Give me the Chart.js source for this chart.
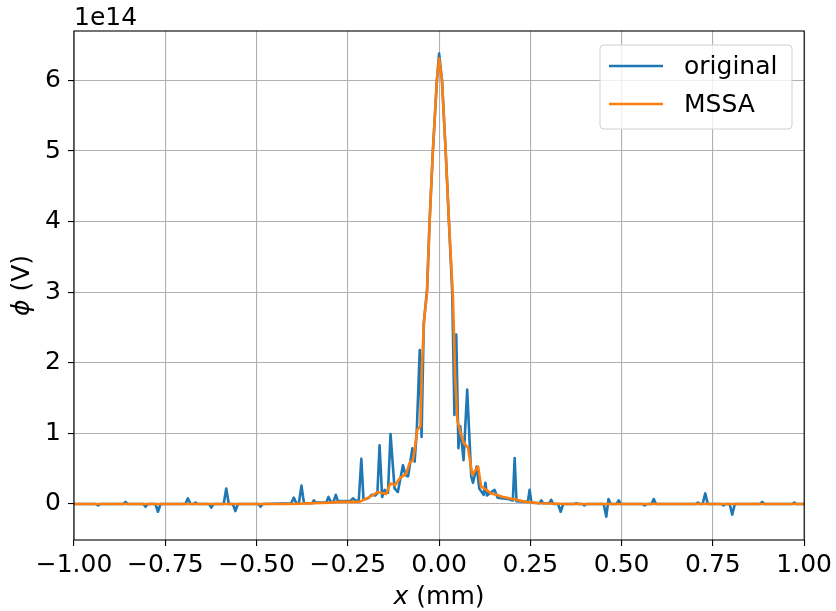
<!DOCTYPE html>
<html>
<head>
<meta charset="utf-8">
<script src="https://cdn.jsdelivr.net/npm/chart.js@4/dist/chart.umd.min.js"></script>
<style>
  html, body { margin: 0; padding: 0; background: #fff; }
  canvas { display: block; }
</style>
</head>
<body>
<canvas id="chart" width="836" height="611"></canvas>
<script>
// values, y in units of 1e14 V
var originalX = [-1.0, -0.94, -0.934, -0.928, -0.865, -0.859, -0.853, -0.81, -0.804, -0.798,
    -0.777, -0.770, -0.763, -0.695, -0.688, -0.681, -0.672, -0.667, -0.662, -0.630,
    -0.624, -0.618, -0.590, -0.583, -0.576, -0.565, -0.558, -0.551, -0.495, -0.489,
    -0.483, -0.405, -0.398, -0.391, -0.384, -0.377, -0.370, -0.348, -0.343, -0.338,
    -0.309, -0.303, -0.297, -0.289, -0.283, -0.277, -0.260, -0.243, -0.236, -0.229,
    -0.220, -0.213, -0.207, -0.195, -0.185, -0.175, -0.169, -0.163, -0.156, -0.149,
    -0.140, -0.133, -0.122, -0.113, -0.099, -0.092, -0.085, -0.073, -0.067, -0.061,
    -0.053, -0.048, -0.042, -0.033, -0.026, -0.017, -0.006, 0.0, 0.008, 0.018,
    0.027, 0.036, 0.042, 0.047, 0.053, 0.058, 0.067, 0.077, 0.088, 0.093,
    0.103, 0.110, 0.122, 0.127, 0.131, 0.138, 0.152, 0.160, 0.175, 0.190,
    0.202, 0.207, 0.212, 0.243, 0.248, 0.253, 0.275, 0.280, 0.285, 0.302,
    0.307, 0.313, 0.326, 0.333, 0.340, 0.370, 0.376, 0.382, 0.392, 0.398,
    0.404, 0.451, 0.458, 0.464, 0.470, 0.486, 0.492, 0.498, 0.557, 0.563,
    0.569, 0.582, 0.588, 0.594, 0.703, 0.709, 0.715, 0.722, 0.729, 0.736,
    0.773, 0.779, 0.785, 0.796, 0.803, 0.810, 0.879, 0.885, 0.891, 0.967,
    0.973, 0.979, 1.0];
var originalY = [0, 0, -0.02, 0, 0, 0.03, 0, 0, -0.04, 0,
    0, -0.11, 0, 0, 0.08, 0, 0, 0.02, 0, 0,
    -0.05, 0, 0, 0.22, 0, 0, -0.10, 0, 0, -0.04,
    0, 0.01, 0.09, 0.01, 0.01, 0.26, 0.01, 0.01, 0.05, 0.02,
    0.02, 0.10, 0.03, 0.03, 0.13, 0.04, 0.04, 0.04, 0.08, 0.05,
    0.05, 0.64, 0.06, 0.08, 0.13, 0.12, 0.15, 0.83, 0.10, 0.20,
    0.16, 0.99, 0.22, 0.17, 0.55, 0.41, 0.39, 0.79, 0.60, 1.05,
    2.18, 0.95, 2.56, 3.03, 4.0, 5.0, 6.0, 6.38, 6.0, 5.0,
    4.0, 3.0, 1.26, 2.40, 0.79, 1.10, 0.62, 1.62, 0.39, 0.30,
    0.53, 0.22, 0.13, 0.30, 0.12, 0.15, 0.20, 0.09, 0.08, 0.07,
    0.05, 0.65, 0.04, 0.03, 0.20, 0.02, 0.01, 0.05, 0.01, 0.01,
    0.06, 0, 0, -0.11, 0, 0, 0.01, 0, 0, -0.02,
    0, 0, -0.18, 0.07, 0, 0, 0.05, 0, 0, -0.02,
    0, 0, 0.07, 0, 0, 0.02, 0, 0, 0.15, 0,
    0, -0.02, 0, 0, -0.15, 0, 0, 0.03, 0, 0,
    0.02, 0, 0];

var mssaX = [-1.0, -0.40, -0.30, -0.272, -0.218, -0.190, -0.168, -0.145, -0.134, -0.120,
    -0.108, -0.090, -0.081, -0.072, -0.066, -0.060, -0.051, -0.047, -0.041, -0.033,
    -0.026, -0.017, -0.006, 0.0, 0.008, 0.018, 0.027, 0.038, 0.044, 0.050,
    0.059, 0.068, 0.079, 0.091, 0.100, 0.107, 0.115, 0.129, 0.143, 0.157,
    0.175, 0.202, 0.239, 0.275, 0.35, 1.0];
var mssaY = [0, 0, 0.02, 0.03, 0.03, 0.10, 0.17, 0.14, 0.29, 0.27,
    0.36, 0.43, 0.58, 0.62, 0.80, 1.05, 1.10, 1.95, 2.60, 3.00,
    4.0, 5.0, 6.0, 6.31, 6.0, 5.0, 4.0, 2.92, 1.81, 1.19,
    1.00, 0.86, 0.80, 0.41, 0.48, 0.53, 0.25, 0.20, 0.15, 0.13,
    0.10, 0.07, 0.03, 0.01, 0, 0];

var xTicks = [-1, -0.75, -0.5, -0.25, 0, 0.25, 0.5, 0.75, 1];
var yTicks = [0, 1, 2, 3, 4, 5, 6];

var FONT = 'DejaVu Sans';
var FS = 25;

function toPoints(xs, ys) {
    return xs.map(function(x, i) { return { x: x, y: ys[i] }; });
}
function minus(s) { return s.replace('-', '\u2212'); }

// frame, legend, axis titles and the exponent label
var decorations = {
    id: 'decorations',
    afterDatasetsDraw: function(chart) {
        var ctx = chart.ctx;
        var a = chart.chartArea;
        ctx.save();
        ctx.strokeStyle = '#000';
        ctx.lineWidth = 1.1;
        ctx.strokeRect(a.left, a.top, a.right - a.left, a.bottom - a.top);

        // legend
        var bx = 600, by = 45, bw = 192, bh = 84, r = 4;
        ctx.beginPath();
        ctx.moveTo(bx + r, by);
        ctx.arcTo(bx + bw, by, bx + bw, by + bh, r);
        ctx.arcTo(bx + bw, by + bh, bx, by + bh, r);
        ctx.arcTo(bx, by + bh, bx, by, r);
        ctx.arcTo(bx, by, bx + bw, by, r);
        ctx.closePath();
        ctx.fillStyle = 'rgba(255,255,255,0.8)';
        ctx.fill();
        ctx.strokeStyle = '#d0d0d0';
        ctx.lineWidth = 1;
        ctx.stroke();
        var rows = [66, 104];
        chart.data.datasets.forEach(function(ds, i) {
            ctx.beginPath();
            ctx.strokeStyle = ds.borderColor;
            ctx.lineWidth = 2.6;
            ctx.moveTo(609, rows[i]);
            ctx.lineTo(663, rows[i]);
            ctx.stroke();
            ctx.fillStyle = '#000';
            ctx.font = FS + 'px ' + FONT;
            ctx.textBaseline = 'middle';
            ctx.textAlign = 'left';
            ctx.fillText(ds.label, 684, rows[i] + 1);
        });

        // exponent
        ctx.fillStyle = '#000';
        ctx.font = FS + 'px ' + FONT;
        ctx.textAlign = 'left';
        ctx.textBaseline = 'alphabetic';
        ctx.fillText('1e14', 74, 25);

        // x title
        var cx = (a.left + a.right) / 2;
        ctx.textBaseline = 'middle';
        ctx.font = 'oblique ' + FS + 'px ' + FONT;
        var w1 = ctx.measureText('x').width;
        ctx.font = FS + 'px ' + FONT;
        var w2 = ctx.measureText(' (mm)').width;
        var sx = cx - (w1 + w2) / 2;
        ctx.font = 'oblique ' + FS + 'px ' + FONT;
        ctx.fillText('x', sx, 597);
        ctx.font = FS + 'px ' + FONT;
        ctx.fillText(' (mm)', sx + w1, 597);

        // y title
        ctx.translate(22, (a.top + a.bottom) / 2);
        ctx.rotate(-Math.PI / 2);
        ctx.font = 'oblique ' + FS + 'px ' + FONT;
        w1 = ctx.measureText('\u03d5').width;
        ctx.font = FS + 'px ' + FONT;
        w2 = ctx.measureText(' (V)').width;
        sx = -(w1 + w2) / 2;
        ctx.font = 'oblique ' + FS + 'px ' + FONT;
        ctx.fillText('\u03d5', sx, 0);
        ctx.font = FS + 'px ' + FONT;
        ctx.fillText(' (V)', sx + w1, 0);
        ctx.restore();
    }
};

var ctx = document.getElementById('chart').getContext('2d');
var chart = new Chart(ctx, {
    type: 'line',
    data: {
        datasets: [{
            label: 'original',
            data: toPoints(originalX, originalY),
            borderColor: '#1f77b4',
            borderWidth: 2.6,
            borderJoinStyle: 'round',
            pointRadius: 0,
            tension: 0,
            fill: false,
            order: 1
        }, {
            label: 'MSSA',
            data: toPoints(mssaX, mssaY),
            borderColor: '#ff7f0e',
            borderWidth: 2.6,
            borderJoinStyle: 'round',
            pointRadius: 0,
            tension: 0,
            fill: false,
            order: 0
        }]
    },
    options: {
        responsive: false,
        animation: false,
        devicePixelRatio: 1,
        layout: { padding: { left: 0, top: 31, right: 31, bottom: 0 } },
        plugins: {
            legend: { display: false },
            tooltip: { enabled: false }
        },
        scales: {
            x: {
                type: 'linear',
                min: -1,
                max: 1,
                afterBuildTicks: function(scale) {
                    scale.ticks = xTicks.map(function(v) { return { value: v }; });
                },
                afterFit: function(scale) { scale.height = 71; },
                ticks: {
                    color: '#000',
                    padding: 4,
                    maxRotation: 0,
                    font: { family: FONT, size: FS },
                    callback: function(v) { return minus(Number(v).toFixed(2)); }
                },
                grid: { color: '#b0b0b0', lineWidth: 1.1, tickColor: '#000', tickLength: 6 },
                border: { display: false }
            },
            y: {
                type: 'linear',
                min: -0.51,
                max: 6.7,
                afterBuildTicks: function(scale) {
                    scale.ticks = yTicks.map(function(v) { return { value: v }; });
                },
                afterFit: function(scale) { scale.width = 74; },
                ticks: {
                    color: '#000',
                    padding: 7,
                    font: { family: FONT, size: FS },
                    callback: function(v) { return minus(String(v)); }
                },
                grid: { color: '#b0b0b0', lineWidth: 1.1, tickColor: '#000', tickLength: 6 },
                border: { display: false }
            }
        }
    },
    plugins: [decorations]
});
</script>
</body>
</html>
